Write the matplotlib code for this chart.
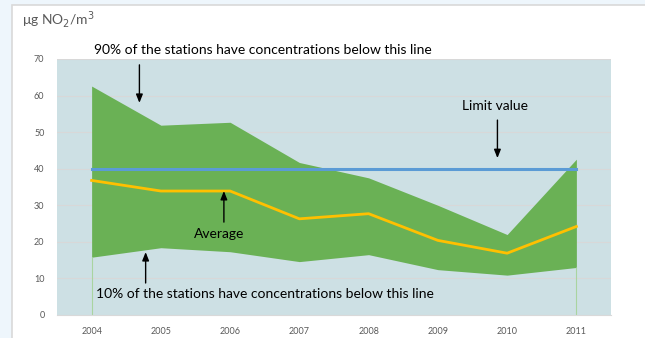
import matplotlib
matplotlib.use("Agg")
import matplotlib.pyplot as plt
from matplotlib.patches import Rectangle

years = [2004, 2005, 2006, 2007, 2008, 2009, 2010, 2011]
p90 = [62.6, 51.9, 52.7, 41.7, 37.5, 30.0, 22.0, 42.6]
average = [36.8, 33.9, 33.9, 26.3, 27.7, 20.4, 16.9, 24.2]
p10 = [15.8, 18.4, 17.3, 14.6, 16.5, 12.4, 10.9, 13.0]
limit_value = 40
yticks = [0, 10, 20, 30, 40, 50, 60, 70]

plt.rcParams['font.family'] = ['Lato', 'DejaVu Sans']

fig = plt.figure(figsize=(6.45, 3.38), dpi=100)
fig.patch.set_facecolor('#eef6fc')

# white panel with thin border
panel = Rectangle((12 / 645, -0.05), 1.0, 1.05 - 5 / 338, transform=fig.transFigure,
                  facecolor='white', edgecolor='#d9d9d9', linewidth=1.2, zorder=-5)
fig.patches.append(panel)

ax = fig.add_axes([57 / 645, 23 / 338, (611 - 57) / 645, (315 - 59) / 338])
ax.set_zorder(1)
ax.set_facecolor('#cde0e4')
ax.set_xlim(2003.5, 2011.5)
ax.set_ylim(0, 70)

for v in yticks[1:]:
    ax.axhline(v, color='#d8d8d8', linewidth=0.8, zorder=1)

ax.fill_between(years, p10, p90, color='#6ab155', linewidth=0, zorder=2)
ax.vlines([years[0], years[-1]], 0, [p10[0], p10[-1]], color='#a9d4a0', linewidth=0.8, zorder=2)
ax.plot([years[0], years[-1]], [limit_value, limit_value], color='#5b9bd5', linewidth=2.2, zorder=4)
ax.plot(years, average, color='#ffc000', linewidth=2.0, zorder=3)

for s in ['top', 'right', 'left']:
    ax.spines[s].set_visible(False)
ax.spines['bottom'].set_color('#d9d9d9')
ax.set_xticks(years)
ax.set_yticks(yticks)
ax.tick_params(length=0, labelsize=6.5, colors='#595959', pad=9)
ax.tick_params(axis='y', pad=9)

fig.text(22 / 645, 1 - 19 / 338, 'μg NO$_2$/m$^3$', fontsize=10, color='#595959',
         va='center', ha='left')

txt = dict(fontsize=10, color='black', clip_on=False, zorder=6)
arr = dict(arrowstyle='-|>,head_length=0.5,head_width=0.2', color='black', lw=1.0,
           shrinkA=0, shrinkB=0)

ax.text(2004.04, 72.5, '90% of the stations have concentrations below this line',
        ha='left', va='center', **txt)
ax.annotate('', xy=(2004.69, 58.0), xytext=(2004.69, 68.4), arrowprops=arr, annotation_clip=False)

ax.text(2009.83, 57.1, 'Limit value', ha='center', va='center', **txt)
ax.annotate('', xy=(2009.86, 42.9), xytext=(2009.86, 53.3), arrowprops=arr)

ax.text(2005.84, 22.1, 'Average', ha='center', va='center', **txt)
ax.annotate('', xy=(2005.91, 33.9), xytext=(2005.91, 25.4), arrowprops=arr)

ax.text(2004.06, 5.7, '10% of the stations have concentrations below this line',
        ha='left', va='center', **txt)
ax.annotate('', xy=(2004.78, 17.2), xytext=(2004.78, 8.75), arrowprops=arr)

fig.savefig('out.png', dpi=100)
